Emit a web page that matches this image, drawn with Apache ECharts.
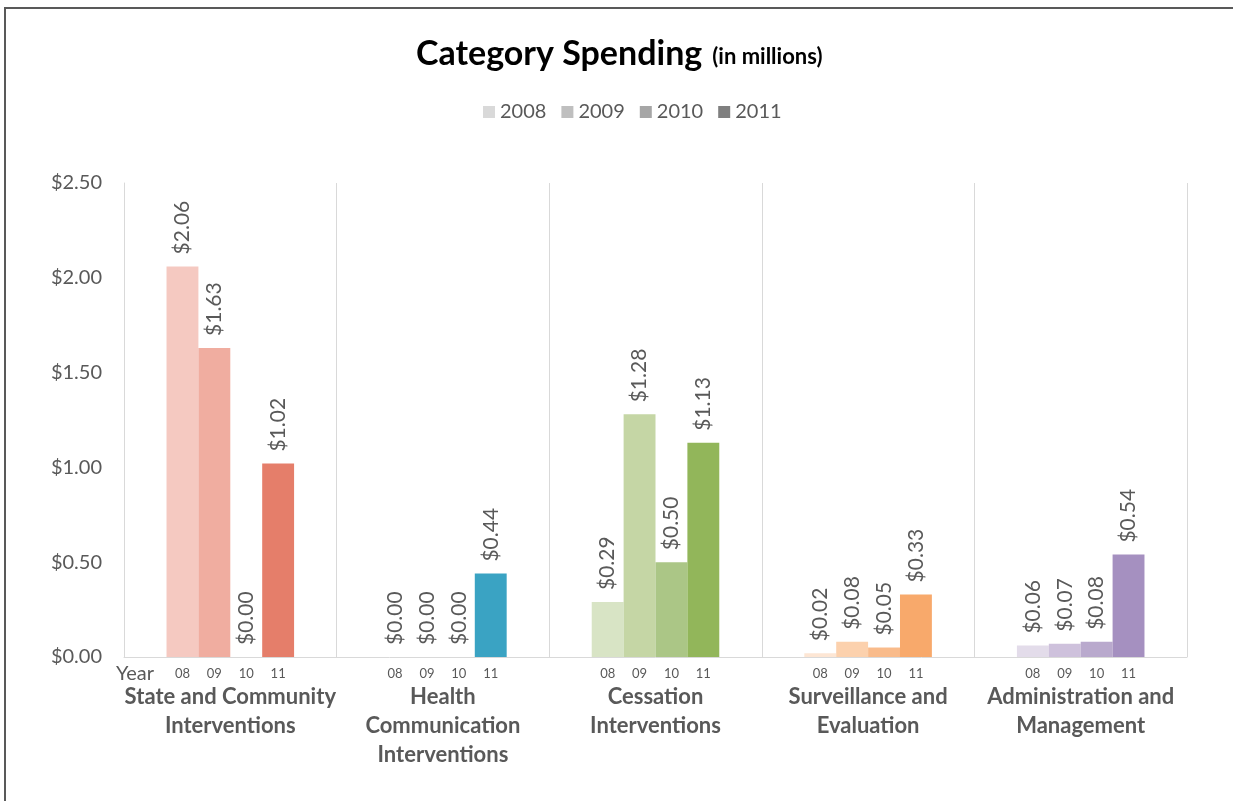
<!DOCTYPE html>
<html>
<head>
<meta charset="utf-8">
<script src="https://cdn.jsdelivr.net/npm/echarts@6/dist/echarts.min.js"></script>
<style>
  html, body { margin: 0; padding: 0; background: #fff; }
  #chart { width: 1233px; height: 801px; }
</style>
</head>
<body>
<div id="chart"></div>
<script>
// Spending categories (x axis) and yearly values in millions of dollars
const categories = [
  'State and Community\nInterventions',
  'Health\nCommunication\nInterventions',
  'Cessation\nInterventions',
  'Surveillance and\nEvaluation',
  'Administration and\nManagement'
];
const years = ['2008', '2009', '2010', '2011'];
const yearCodes = ['08', '09', '10', '11'];

const spend2008 = [2.06, 0.00, 0.29, 0.02, 0.06];
const spend2009 = [1.63, 0.00, 1.28, 0.08, 0.07];
const spend2010 = [0.00, 0.00, 0.50, 0.05, 0.08];
const spend2011 = [1.02, 0.44, 1.13, 0.33, 0.54];

const yTicks = [0, 0.5, 1.0, 1.5, 2.0, 2.5];

// Colour shades per category, light (2008) to dark (2011)
const palette = [
  ['#f5c9c1', '#f0ada0', '#eb9683', '#e57e6a'],
  ['#9fd2e2', '#74bdd3', '#55b0cb', '#3aa3c3'],
  ['#d8e4c5', '#c5d6a5', '#abc686', '#92b65a'],
  ['#fde6d4', '#fcd1ad', '#f9bb8b', '#f8a96b'],
  ['#e3dcea', '#cec1dc', '#b9a9cd', '#a590c0']
];
const legendGrays = ['#d9d9d9', '#bfbfbf', '#a6a6a6', '#7f7f7f'];

const FONT = 'Lato, "Noto Sans", sans-serif';
const TEXT_GRAY = '#595959';
const yearValues = [spend2008, spend2009, spend2010, spend2011];

const valueSeries = yearValues.map((vals, yi) => ({
  name: years[yi],
  type: 'bar',
  xAxisIndex: 0,
  barGap: '0%',
  barCategoryGap: '40%',
  itemStyle: { color: legendGrays[yi] },
  data: vals.map((v, ci) => ({ value: v, itemStyle: { color: palette[ci][yi] } })),
  label: {
    show: true,
    position: 'top',
    rotate: 90,
    align: 'left',
    verticalAlign: 'middle',
    distance: 12,
    fontFamily: FONT,
    fontSize: 21,
    color: TEXT_GRAY,
    formatter: p => '$' + p.value.toFixed(2)
  }
}));

// Transparent twins on a hidden axis carry the short year code under each bar
const yearCodeSeries = yearCodes.map((code, yi) => ({
  name: 'code' + code,
  type: 'bar',
  xAxisIndex: 1,
  barGap: '0%',
  barCategoryGap: '40%',
  silent: true,
  itemStyle: { color: 'rgba(0,0,0,0)' },
  data: categories.map(() => 0),
  label: {
    show: true,
    position: 'bottom',
    distance: 10,
    fontFamily: FONT,
    fontSize: 13,
    color: TEXT_GRAY,
    formatter: () => code
  }
}));

const chart = echarts.init(document.getElementById('chart'), null, { renderer: 'canvas' });
chart.setOption({
  animation: false,
  backgroundColor: '#ffffff',
  title: {
    left: 411,
    top: 32,
    text: '{a|Category Spending} {b|(in millions)}',
    textStyle: {
      rich: {
        a: { fontFamily: FONT, fontSize: 34, fontWeight: 'bold', color: '#000' },
        b: { fontFamily: FONT, fontSize: 22, fontWeight: 'bold', color: '#000', padding: [6, 0, 0, 5] }
      }
    }
  },
  legend: {
    data: years,
    top: 97,
    left: 478,
    icon: 'rect',
    itemWidth: 12,
    itemHeight: 12,
    itemGap: 15,
    textStyle: { fontFamily: FONT, fontSize: 20, color: TEXT_GRAY }
  },
  grid: { left: 124, right: 46, top: 183, bottom: 144, containLabel: false },
  xAxis: [
    {
      type: 'category',
      data: categories,
      axisLine: { show: true, lineStyle: { color: '#d9d9d9', width: 1 } },
      axisTick: { show: false },
      splitLine: { show: true, interval: 0, lineStyle: { color: '#d9d9d9', width: 1 } },
      axisLabel: {
        interval: 0,
        margin: 25,
        fontFamily: FONT,
        fontSize: 22,
        fontWeight: 'bold',
        lineHeight: 29,
        color: TEXT_GRAY
      }
    },
    {
      type: 'category',
      data: categories,
      show: false
    }
  ],
  yAxis: {
    type: 'value',
    min: yTicks[0],
    max: yTicks[yTicks.length - 1],
    interval: 0.5,
    name: 'Year',
    nameLocation: 'start',
    nameGap: 7,
    nameMoveOverlap: false,
    nameTextStyle: { fontFamily: FONT, fontSize: 20, color: TEXT_GRAY, align: 'left', padding: [0, 0, 0, -8] },
    axisLine: { show: true, lineStyle: { color: '#d9d9d9', width: 1 } },
    axisTick: { show: false },
    splitLine: { show: false },
    axisLabel: {
      margin: 22,
      fontFamily: FONT,
      fontSize: 20,
      color: TEXT_GRAY,
      formatter: v => '$' + v.toFixed(2)
    }
  },
  graphic: [
    { type: 'line', shape: { x1: 4, y1: 8, x2: 1233, y2: 8 }, style: { stroke: '#595959', lineWidth: 2 } },
    { type: 'line', shape: { x1: 5, y1: 7, x2: 5, y2: 801 }, style: { stroke: '#595959', lineWidth: 2 } }
  ],
  series: valueSeries.concat(yearCodeSeries)
});
</script>
</body>
</html>
